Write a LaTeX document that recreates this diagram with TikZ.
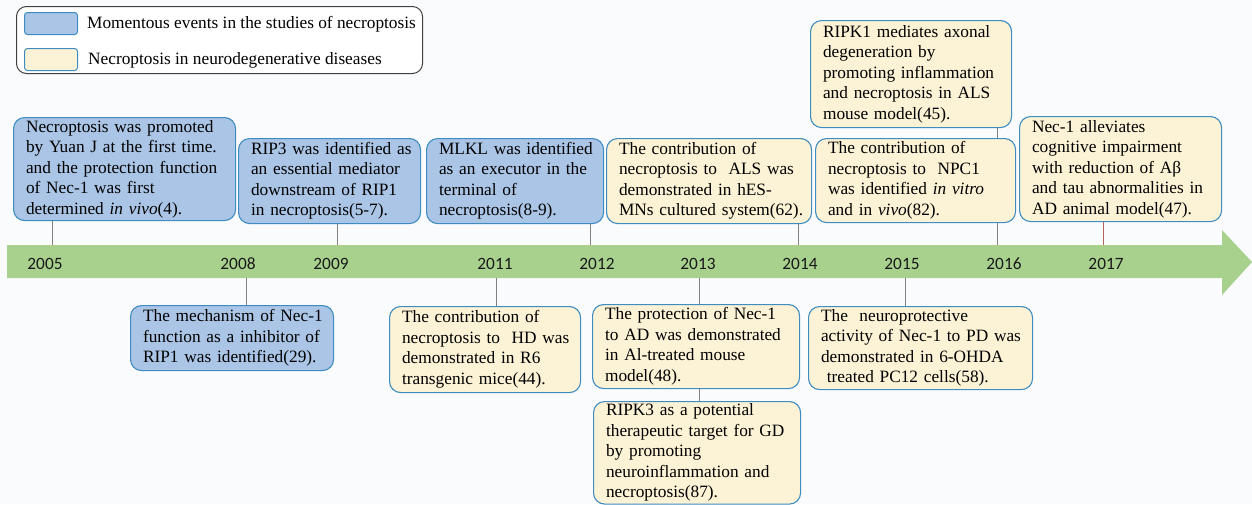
\documentclass[tikz,border=0pt]{standalone}
\usepackage{fontspec}
\setmainfont{Liberation Serif}
\newfontfamily\boxfont{Liberation Serif}
\newfontfamily\yearfont{Carlito}
\definecolor{bgc}{HTML}{FAFBFD}
\definecolor{evblue}{HTML}{AAC5E6}
\definecolor{evyellow}{HTML}{FCF2D5}
\definecolor{evborder}{HTML}{3F8CC0}
\definecolor{bandgreen}{HTML}{A9D18E}
\definecolor{conngray}{HTML}{7F7F7F}
\definecolor{connred}{HTML}{B5605C}
\newcommand{\lns}[1]{{\boxfont\fontsize{17.3}{20.5}\selectfont\begin{tabular}{@{}l@{}}#1\end{tabular}}}
\tikzset{
  evbase/.style={draw=evborder, line width=1.1pt, rounded corners=11pt, anchor=north west,
    inner xsep=12.5pt, inner ysep=0pt, align=left,
    font=\boxfont\fontsize{17.3}{20.5}\selectfont},
  evblue/.style={evbase, fill=evblue},
  evyellow/.style={evbase, fill=evyellow},
  conn/.style={draw=conngray, line width=1pt},
  connr/.style={draw=connred, line width=0.9pt},
  yearlbl/.style={font=\yearfont\fontsize{17.3}{20}\selectfont, text=black!90, inner sep=0pt},
  swatch/.style={draw=evborder, line width=1pt, rounded corners=3pt},
  legtext/.style={font=\boxfont\fontsize{17.3}{20.5}\selectfont, anchor=base west, inner sep=0pt}
}
\begin{document}
\begin{tikzpicture}[x=1pt,y=-1pt]
\fill[bgc] (0,0) rectangle (1252,504);
\useasboundingbox (0,0) rectangle (1252,504);

% legend
\node[draw=black!75, line width=1pt, rounded corners=10pt, fill=white, anchor=north west,
      minimum width=406pt, minimum height=67pt, inner sep=0pt] (legend) at (16,6) {};
\node[swatch, fill=evblue, anchor=north west, minimum width=53pt, minimum height=22pt, inner sep=0pt] (sw1) at (24,12) {};
\node[swatch, fill=evyellow, anchor=north west, minimum width=53pt, minimum height=22pt, inner sep=0pt] (sw2) at (24,48) {};
\node[legtext] (lt1) at (87,28) {Momentous events in the studies of necroptosis};
\node[legtext] (lt2) at (88,64) {Necroptosis in neurodegenerative diseases};

% timeline arrow
\fill[bandgreen] (7,245) -- (1222,245) -- (1222,230) -- (1252,262) -- (1222,295) -- (1222,278) -- (7,278) -- cycle;

% connector end points on the band
\coordinate (t2005) at (52,245);
\coordinate (t2009) at (337,245);
\coordinate (t2012) at (590,245);
\coordinate (t2014) at (798,245);
\coordinate (t2016) at (997,245);
\coordinate (t2017) at (1103,245);
\coordinate (b2008) at (246,278);
\coordinate (b2011) at (496,278);
\coordinate (b2013) at (699,278);
\coordinate (b2015) at (905,278);

% upper boxes
\node[evblue, minimum width=222pt, minimum height=103pt, text width=197pt] (A) at (13,117)
  {\lns{Necroptosis was promoted\\by Yuan J at the first time.\\and the protection function\\of Nec-1 was first\\determined \textit{in vivo}(4).}};
\node[evblue, minimum width=182pt, minimum height=85pt, text width=157pt] (B) at (238,138)
  {\lns{RIP3 was identified as\\an essential mediator\\downstream of RIP1\\in necroptosis(5-7).}};
\node[evblue, minimum width=177pt, minimum height=85pt, text width=152pt] (C) at (426,138)
  {\lns{MLKL was identified\\as an executor in the\\terminal of\\necroptosis(8-9).}};
\node[evyellow, minimum width=205pt, minimum height=85pt, text width=180pt] (D) at (606,138)
  {\lns{The contribution of\\necroptosis to\ \ ALS was\\demonstrated in hES-\\MNs cultured system(62).}};
\draw[conn] (997,127) -- (t2016);
\node[evyellow, minimum width=201pt, minimum height=107pt, text width=176pt] (E) at (810,20)
  {\lns{RIPK1 mediates axonal\\degeneration by\\promoting inflammation\\and necroptosis in ALS\\mouse model(45).}};
\node[evyellow, minimum width=200pt, minimum height=84pt, text width=175pt] (F) at (815,138)
  {\lns{The contribution of\\necroptosis to\ \ NPC1\\was identified \textit{in vitro}\\and in \textit{vivo}(82).}};
\node[evyellow, minimum width=202pt, minimum height=105pt, text width=177pt] (G) at (1019,116)
  {\lns{Nec-1 alleviates\\cognitive impairment\\with reduction of Aβ\\and tau abnormalities in\\AD animal model(47).}};

% lower boxes
\node[evblue, minimum width=203pt, minimum height=65pt, text width=178pt] (H) at (130,305)
  {\lns{The mechanism of Nec-1\\function as a inhibitor of\\RIP1 was identified(29).}};
\node[evyellow, minimum width=191pt, minimum height=86pt, text width=166pt] (I) at (389,306)
  {\lns{The contribution of\\necroptosis to\ \ HD was\\demonstrated in R6\\transgenic mice(44).}};
\node[evyellow, minimum width=207pt, minimum height=84pt, text width=182pt] (J) at (592,304)
  {\lns{The protection of Nec-1\\to AD was demonstrated\\in Al-treated mouse\\model(48).}};
\node[evyellow, minimum width=207pt, minimum height=102pt, text width=182pt] (K) at (593,401)
  {\lns{RIPK3 as a potential\\therapeutic target for GD\\by promoting\\neuroinflammation and\\necroptosis(87).}};
\node[evyellow, minimum width=224pt, minimum height=83pt, text width=199pt] (L) at (808,306)
  {\lns{The\ \ neuroprotective\\activity of Nec-1 to PD was\\demonstrated in 6-OHDA\\\ treated PC12 cells(58).}};

% connectors
\draw[conn] (A.south -| t2005) -- (t2005);
\draw[conn] (B.south -| t2009) -- (t2009);
\draw[conn] (C.south -| t2012) -- (t2012);
\draw[conn] (D.south -| t2014) -- (t2014);
\draw[conn] (E.south -| t2016) -- (F.north -| t2016);
\draw[connr] (G.south -| t2017) -- (t2017);
\draw[conn] (b2008) -- (H.north -| b2008);
\draw[conn] (b2011) -- (I.north -| b2011);
\draw[conn] (b2013) -- (J.north -| b2013);
\draw[conn] (J.south -| b2013) -- (K.north -| b2013);
\draw[conn] (b2015) -- (L.north -| b2015);

% year labels
\node[yearlbl] (y2005) at (45,264) {2005};
\node[yearlbl] (y2008) at (238,264) {2008};
\node[yearlbl] (y2009) at (331,264) {2009};
\node[yearlbl] (y2011) at (495,264) {2011};
\node[yearlbl] (y2012) at (597,264) {2012};
\node[yearlbl] (y2013) at (698,264) {2013};
\node[yearlbl] (y2014) at (800,264) {2014};
\node[yearlbl] (y2015) at (902,264) {2015};
\node[yearlbl] (y2016) at (1004,264) {2016};
\node[yearlbl] (y2017) at (1106,264) {2017};
\end{tikzpicture}
\end{document}
